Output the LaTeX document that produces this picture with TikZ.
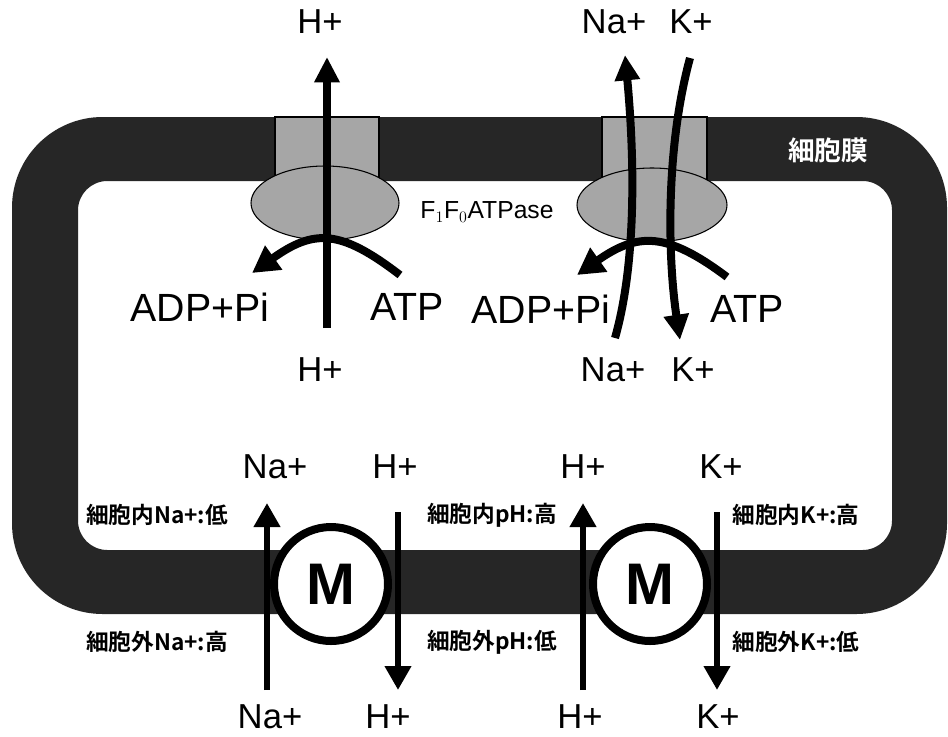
\documentclass[tikz,border=0pt]{standalone}
\usepackage{fontspec}
\setmainfont{Liberation Sans}
\newfontfamily\jpfont{Noto Sans CJK JP}[BoldFont=* Bold]
\usetikzlibrary{arrows.meta}

\begin{document}
\begin{tikzpicture}[
  x=0.75pt, y=-0.75pt,
  membrane/.style={fill=black!85},
  pore/.style={draw, line width=0.8pt, fill=black!35},
  ion/.style={line width=6pt, -{Triangle[length=19pt, width=18pt]}},
  react/.style={line width=6pt, -{Triangle[length=20pt, width=21pt]}},
  flow/.style={line width=4.5pt, -{Triangle[length=18pt, width=19pt]}},
  motor/.style={circle, draw, line width=6pt, fill=white, inner sep=0pt,
                minimum size=85.5pt, font=\fontsize{44}{48}\selectfont\bfseries},
  ionlbl/.style={inner sep=0pt, font=\fontsize{26}{30}\selectfont},
  molec/.style={inner sep=0pt, font=\fontsize{29.5}{34}\selectfont},
  conc/.style={inner sep=0pt, font=\jpfont\bfseries\fontsize{17}{20}\selectfont}
]
\useasboundingbox[fill=white] (0,0) rectangle (948,736);

% cell membrane
\fill[membrane, even odd rule]
  [rounded corners=68pt] (12,117) rectangle (947,614)
  [rounded corners=22pt] (78,181) rectangle (892,550);
\node[white, inner sep=0pt, font=\jpfont\bfseries\fontsize{20}{24}\selectfont]
  (memb) at (828,150) {細胞膜};

% F1F0 ATPase (left) and Na/K pump (right)
\draw[pore] (275,117) rectangle (379,200);
\draw[pore] (325,203) ellipse [x radius=74, y radius=37];
\draw[pore] (602,117) rectangle (707,200);
\draw[pore] (652,205) ellipse [x radius=75, y radius=37];

\node[inner sep=0pt, font=\fontsize{18.5}{22}\selectfont]
  (atpase) at (487,212) {F$_1$F$_0$ATPase};

% ion and molecule labels
\node[ionlbl] (hout)  at (320,22)  {H+};
\node[ionlbl] (hin)   at (320,370) {H+};
\node[ionlbl] (naout) at (614,22)  {Na+};
\node[ionlbl] (kout)  at (691,22)  {K+};
\node[ionlbl] (nain)  at (613,370) {Na+};
\node[ionlbl] (kin)   at (693,370) {K+};
\node[molec] (adpa) at (200,307) {ADP+Pi};
\node[molec] (atpa) at (407,307) {ATP};
\node[molec] (adpb) at (541,309) {ADP+Pi};
\node[molec] (atpb) at (747,309) {ATP};

% end points of the pump arrows
\coordinate (h0)  at (327,328);
\coordinate (h1)  at (327,57);
\coordinate (na0) at (615,338);
\coordinate (na1) at (625,55);
\coordinate (k0)  at (690,58);
\coordinate (k1)  at (680,340);
\coordinate (ea0) at (400,275);
\coordinate (ea1) at (252,273);
\coordinate (eb0) at (727,277);
\coordinate (eb1) at (577,275);

% ATP hydrolysis
\draw[react] (ea0) .. controls (340,229) and (314,229) .. (ea1);
\draw[react] (eb0) .. controls (667,232) and (638,232) .. (eb1);

% ions through the pumps
\draw[ion] (h0) -- (h1);
\draw[ion] (na0) .. controls (640,250) and (632,130) .. (na1);
\draw[ion] (k0) .. controls (665,150) and (668,260) .. (k1);

% antiporters
\node[motor] (m1) at (331,584) {M};
\node[motor] (m2) at (650,584) {M};

\node[ionlbl] (na2in)  at (275,467) {Na+};
\node[ionlbl] (h2in)   at (395,467) {H+};
\node[ionlbl] (h3in)   at (583,467) {H+};
\node[ionlbl] (k3in)   at (721,467) {K+};
\node[ionlbl] (na2out) at (270,717) {Na+};
\node[ionlbl] (h2out)  at (388,717) {H+};
\node[ionlbl] (h3out)  at (580,717) {H+};
\node[ionlbl] (k3out)  at (718,717) {K+};

\coordinate (f1a) at (267,690);
\coordinate (f1b) at (267,503);
\coordinate (f2a) at (398,512);
\coordinate (f2b) at (398,690);
\coordinate (f3a) at (583,690);
\coordinate (f3b) at (583,503);
\coordinate (f4a) at (717,512);
\coordinate (f4b) at (717,690);

\draw[flow] (f1a) -- (f1b);
\draw[flow] (f2a) -- (f2b);
\draw[flow] (f3a) -- (f3b);
\draw[flow] (f4a) -- (f4b);

% concentrations
\node[conc] (cna1) at (157,515) {細胞内Na+:低};
\node[conc] (cna2) at (157,642) {細胞外Na+:高};
\node[conc] (cph1) at (492,515) {細胞内pH:高};
\node[conc] (cph2) at (492,642) {細胞外pH:低};
\node[conc] (ck1)  at (796,515) {細胞内K+:高};
\node[conc] (ck2)  at (796,642) {細胞外K+:低};

\end{tikzpicture}
\end{document}
